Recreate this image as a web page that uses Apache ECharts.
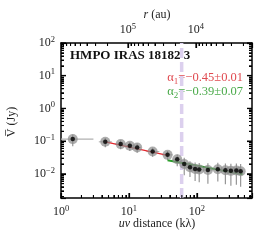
<!DOCTYPE html>
<html><head><meta charset="utf-8">
<script src="https://cdn.jsdelivr.net/npm/echarts@6/dist/echarts.min.js"></script>
<style>html,body{margin:0;padding:0;background:#fff}#c{width:265px;height:241px}</style>
</head><body><div id="c"></div>
<script>
// data
const uv    = [1.49, 4.48, 7.55, 10.3, 13.2, 22.3, 37, 51.3, 65, 79, 94, 108, 145, 203, 262, 316, 380, 440];
const amp   = [0.115, 0.095, 0.081, 0.072, 0.064, 0.048, 0.038, 0.028, 0.020, 0.016, 0.014, 0.0135, 0.013, 0.0138, 0.0128, 0.0123, 0.0126, 0.012];
const ampErr= [0.045, 0.03, 0.025, 0.022, 0.02, 0.015, 0.012, 0.011, 0.011, 0.008, 0.008, 0.008, 0.008, 0.008, 0.008, 0.008, 0.008, 0.008];
const binLo = [1.0, 3.6, 6.2, 9.0, 11.8, 18, 31, 44, 59, 72, 86, 101, 125, 180, 235, 290, 350, 410];
const binHi = [3.0, 5.6, 9.0, 11.8, 15, 28, 44, 59, 72, 86, 101, 120, 170, 230, 290, 350, 410, 480];
const fit1X = [4.5, 37];   const fit1Y = [0.095, 0.0369];
const fit2X = [37, 470];   const fit2Y = [0.026, 0.0097];
const breakUV = 59.6;
const xDecades = [1, 10, 100];
const yDecades = [0.001, 0.01, 0.1, 1, 10, 100];
const rDecades = [1e3, 1e4, 1e5];
const title = 'HMPO IRAS 18182 3';
const alpha1 = ['α', '1', '=−0.45±0.01'];
const alpha2 = ['α', '2', '=−0.39±0.07'];

const FONT = '"Liberation Serif","DejaVu Serif",serif';
const xMin = 1, xMax = 646;
const yMin = 0.00182, yMax = 100;
const rConst = 9.67e5;

function isDecade(v){const l=Math.log10(v);return Math.abs(l-Math.round(l))<1e-6;}
function powLabel(v){if(!isDecade(v))return '';const e=Math.round(Math.log10(v));return '{b|10}{s|'+(e<0?'−'+(-e):e)+'}';}
const rich = {b:{fontFamily:FONT,fontSize:12,color:'#222'}, s:{fontFamily:FONT,fontSize:8.5,color:'#222',verticalAlign:'bottom',padding:[0,0,7,0]}};

function axLine(){return {show:true,lineStyle:{color:'#000',width:1.5}};}
function tick(){return {show:true,inside:true,length:5,lineStyle:{color:'#000',width:1.2}};}
function minor(){return {show:true,splitNumber:9,length:3,lineStyle:{color:'#000',width:1}};}

// tick positions (decades + 2..9 multiples)
function tickList(decades){const out=[];decades.forEach(d=>{for(let m=1;m<=9;m++)out.push([d*m,m===1]);});return out;}
const xTicks = tickList(xDecades).filter(t=>t[0]>=xMin&&t[0]<=xMax);
const yTicks = tickList(yDecades).filter(t=>t[0]>=yMin&&t[0]<=yMax);
const rTicks = tickList(rDecades).filter(t=>t[0]>=rConst/xMax&&t[0]<=rConst/xMin);

const pts = uv.map((u,i)=>[u,amp[i]]);
const errData = uv.map((u,i)=>[u,amp[i],Math.max(amp[i]-ampErr[i],yMin),amp[i]+ampErr[i],binLo[i],binHi[i]]);

function alphaRich(a,color){
  return {text:'{a|'+a[0]+'}{u|'+a[1]+'}{a|'+a[2]+'}',
    rich:{a:{font:'12.5px '+FONT,fill:color,color:color},u:{font:'9px '+FONT,fill:color,color:color,verticalAlign:'top',padding:[7,0,0,0]}},
    textAlign:'right',fill:color};
}

// tick marks as thin rect scatter symbols, positioned by the axes' own scales
function tickSeries(list, toPoint, vertical, dir){
  return {type:'scatter', silent:true, clip:false, z:20, animation:false,
    data:list.map(t=>{const len=t[1]?5:3;
      return {value:toPoint(t[0]),
        symbolSize: vertical?[1.1,len]:[len,1.1],
        symbolOffset: vertical?[0,dir*len/2]:[dir*len/2,0]};}),
    symbol:'rect', itemStyle:{color:'#000',opacity:1}};
}

const chart = echarts.init(document.getElementById('c'));
chart.setOption({
  animation:false,
  grid:{left:61,right:13,top:43,bottom:43},
  xAxis:[
    {type:'log',min:xMin,max:xMax,position:'bottom',axisLine:axLine(),axisTick:tick(),minorTick:minor(),splitLine:{show:false},
     axisLabel:{formatter:powLabel,rich:rich,margin:6,showMinLabel:true,showMaxLabel:false,hideOverlap:false}},
    {type:'log',min:rConst/xMax,max:rConst/xMin,inverse:true,position:'top',axisLine:axLine(),axisTick:tick(),minorTick:minor(),splitLine:{show:false},
     axisLabel:{formatter:function(v){return (v>2e5||v<2e3)?'':powLabel(v);},rich:rich,margin:5,hideOverlap:false}}
  ],
  yAxis:[
    {type:'log',min:yMin,max:yMax,position:'left',axisLine:axLine(),axisTick:tick(),minorTick:minor(),splitLine:{show:false},
     axisLabel:{formatter:powLabel,rich:rich,margin:6,showMinLabel:false,hideOverlap:false}},
    {type:'log',min:yMin,max:yMax,position:'right',axisLine:axLine(),axisTick:tick(),minorTick:minor(),splitLine:{show:false},axisLabel:{show:false}}
  ],
  series:[
    {type:'custom',xAxisIndex:0,yAxisIndex:0,z:1,data:errData,
     renderItem:function(params,api){
       const c=api.coord([api.value(0),api.value(1)]);
       const lo=api.coord([api.value(0),api.value(2)]);
       const hi=api.coord([api.value(0),api.value(3)]);
       const l=api.coord([api.value(4),api.value(1)]);
       const r=api.coord([api.value(5),api.value(1)]);
       return {type:'group',children:[
         {type:'line',shape:{x1:c[0],y1:lo[1],x2:c[0],y2:hi[1]},style:{stroke:'#8c8c8c',lineWidth:1.1}},
         {type:'line',shape:{x1:l[0],y1:c[1],x2:r[0],y2:c[1]},style:{stroke:'#b0b0b0',lineWidth:1.1}}
       ]};
     }},
    {type:'line',data:fit1X.map((x,i)=>[x,fit1Y[i]]),symbol:'none',lineStyle:{color:'#e5262c',width:1.3},z:3},
    {type:'line',data:fit2X.map((x,i)=>[x,fit2Y[i]]),symbol:'none',lineStyle:{color:'#2ca02c',width:2.2},z:3},
    {type:'line',data:[[breakUV,yMin],[breakUV,yMax]],symbol:'none',lineStyle:{color:'#dcd0ee',width:3.5,type:[10,4]},z:2},
    {type:'scatter',data:pts,symbolSize:10,itemStyle:{color:'#8a8a8a',opacity:0.7},z:4},
    {type:'scatter',data:pts,symbolSize:4.5,itemStyle:{color:'#000'},z:5},
    tickSeries(xTicks, v=>[v,yMin], true, -1),
    tickSeries(rTicks, v=>[rConst/v,yMax], true, 1),
    tickSeries(yTicks, v=>[xMin,v], false, 1),
    tickSeries(yTicks, v=>[xMax,v], false, -1)
  ],
  graphic:[
    {type:'text',left:70,top:49,style:{text:title,font:'bold 13px '+FONT,fill:'#111'}},
    {type:'text',x:243,y:70,style:alphaRich(alpha1,'#e04a50')},
    {type:'text',x:243,y:84,style:alphaRich(alpha2,'#4aaa4a')},
    {type:'text',x:157,y:15,style:{text:'{i|r} (au)',rich:{i:{font:'italic 12px '+FONT,fill:'#222'}},font:'12px '+FONT,fill:'#222',textAlign:'center',textVerticalAlign:'middle'}},
    {type:'text',x:157,y:224,style:{text:'{i|uv} distance (kλ)',rich:{i:{font:'italic 12px '+FONT,fill:'#222'}},font:'12px '+FONT,fill:'#222',textAlign:'center',textVerticalAlign:'middle'}},
    {type:'text',x:12,y:122,rotation:Math.PI/2,style:{text:'V\u0305 (Jy)',font:'12px '+FONT,fill:'#222',textAlign:'center',textVerticalAlign:'middle'}}
  ]
});
</script></body></html>
